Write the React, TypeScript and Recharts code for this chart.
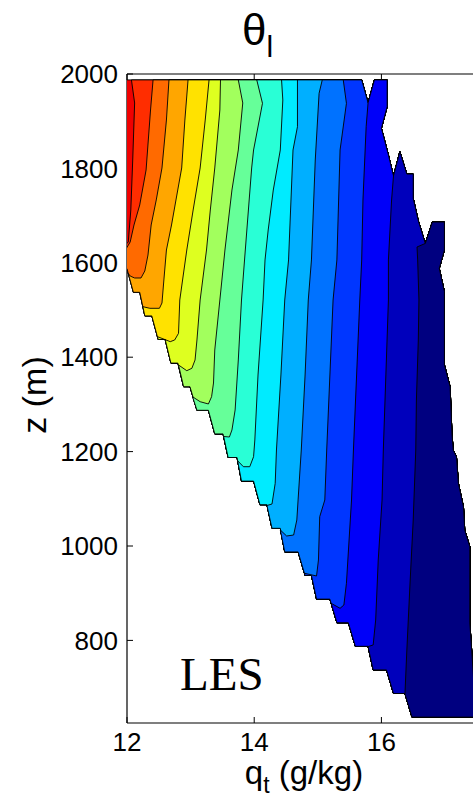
import React from 'react';
import { ScatterChart, Scatter, XAxis, YAxis } from 'recharts';

type P = [number, number]; // [q_t (g/kg), z (m)]

const xTicks = [12, 14, 16];
const zTicks = [800, 1000, 1200, 1400, 1600, 1800, 2000];
const xDomain = [12, 17.44];
const zDomain = [625, 2000];

// colour of each filled band, from the low-q side (band 0) to the high-q side
const bandColors = [
  '#F00000', '#FF2D00', '#FF6A00', '#FFA600', '#FFE200', '#DEFF20', '#A2FF5D', '#66FF99',
  '#29FFD6', '#00EBFF', '#00AFFF', '#0072FF', '#0036FF', '#0000F9', '#0000BC', '#000080',
];

// outline of the region where data exist (left edge down, bottom, right edge up, top)
const domainEdge: P[] = [
  [11.9, 1987.5], [11.9, 1587.5], [12.0, 1587.5],
  [12.10, 1537.5], [12.20, 1537.5],
  [12.28, 1487.5], [12.39, 1487.5],
  [12.49, 1437.5], [12.60, 1437.5],
  [12.69, 1387.5], [12.80, 1387.5],
  [12.89, 1337.5], [12.99, 1337.5],
  [13.10, 1287.5], [13.28, 1287.5],
  [13.38, 1237.5], [13.51, 1237.5],
  [13.59, 1187.5], [13.73, 1187.5],
  [13.80, 1137.5], [13.99, 1137.5],
  [14.09, 1087.5], [14.20, 1087.5],
  [14.28, 1037.5], [14.41, 1037.5],
  [14.48, 987.5], [14.69, 987.5],
  [14.80, 937.5], [14.90, 937.5],
  [14.98, 887.5], [15.19, 887.5],
  [15.30, 837.5], [15.48, 837.5],
  [15.59, 787.5], [15.79, 787.5],
  [15.87, 737.5], [16.08, 737.5],
  [16.19, 687.5], [16.37, 687.5],
  [16.48, 637.5], [17.49, 637.5],
  [17.39, 837], [17.39, 998.5], [17.31, 1034], [17.29, 1083], [17.21, 1133],
  [17.18, 1189], [17.13, 1203], [17.11, 1235], [17.08, 1337.5], [16.99, 1384],
  [16.99, 1539], [16.91, 1588], [16.99, 1627], [16.99, 1686.4], [16.80, 1686.4],
  [16.69, 1641], [16.58, 1689], [16.50, 1736.7], [16.50, 1788], [16.40, 1788],
  [16.29, 1835.4], [16.19, 1784], [16.11, 1828.4], [16.00, 1885], [16.09, 1930.7],
  [16.09, 1987.5], [15.89, 1987.5], [15.79, 1939], [15.69, 1987.5],
];

// contour lines, each from its upper end to where it meets the left/bottom edge
const contour0: P[] = [[12.07, 1987.5], [12.12, 1938.6], [12.09, 1817.8], [12.06, 1711.9], [12.02, 1644.1], [11.9, 1627.1]];
const contour1: P[] = [[12.41, 1987.5], [12.37, 1923.7], [12.30, 1796.6], [12.20, 1722.5], [12.11, 1680.1], [12.05, 1644.1], [11.9, 1610.2]];
const contour2: P[] = [[12.66, 1987.5], [12.62, 1902.5], [12.55, 1800.9], [12.46, 1733.1], [12.38, 1680.1], [12.33, 1616.5], [12.28, 1582.6], [12.22, 1567.8], [12.12, 1567.8], [12.05, 1572.0], [12.02, 1577.3]];
const contour3: P[] = [[12.96, 1987.5], [12.91, 1902.5], [12.86, 1800.9], [12.77, 1733.1], [12.70, 1680.1], [12.62, 1627.1], [12.58, 1563.6], [12.55, 1514.8], [12.51, 1503.6], [12.36, 1503.6], [12.25, 1507.0]];
const contour4: P[] = [[13.29, 1987.5], [13.23, 1902.5], [13.15, 1800.9], [13.04, 1711.9], [12.94, 1627.1], [12.83, 1521.2], [12.81, 1450.6], [12.75, 1436.5], [12.68, 1432.9], [12.48, 1443.5]];
const contour5: P[] = [[13.47, 1987.5], [13.46, 1923.7], [13.38, 1800.9], [13.31, 1711.9], [13.25, 1627.1], [13.15, 1521.2], [13.10, 1436.5], [13.07, 1394.1], [13.02, 1376.5], [12.94, 1371.4], [12.81, 1383.5]];
const contour6: P[] = [[13.75, 1987.5], [13.82, 1938.6], [13.75, 1839.0], [13.65, 1754.2], [13.54, 1627.1], [13.46, 1521.2], [13.38, 1415.3], [13.36, 1345.3], [13.33, 1316.3], [13.28, 1300.9], [13.15, 1305.7], [13.03, 1316.3]];
const contour7: P[] = [[14.04, 1987.5], [14.13, 1937.9], [13.99, 1839.0], [13.96, 1800.9], [13.86, 1627.1], [13.80, 1521.2], [13.75, 1394.1], [13.70, 1288.2], [13.65, 1245.8], [13.61, 1230.9], [13.52, 1232.0]];
const contour8: P[] = [[14.43, 1987.5], [14.45, 1944.9], [14.41, 1839.0], [14.30, 1754.2], [14.22, 1669.5], [14.17, 1606.0], [14.14, 1521.2], [14.06, 1362.3], [14.01, 1224.6], [13.99, 1189.2], [13.93, 1168.0], [13.83, 1168.0], [13.74, 1180.5]];
const contour9: P[] = [[14.68, 1987.5], [14.68, 1888.3], [14.61, 1839.0], [14.54, 1606.0], [14.48, 1521.2], [14.42, 1362.3], [14.35, 1203.4], [14.33, 1132.8], [14.28, 1089.0], [14.20, 1085.8]];
const contour10: P[] = [[15.07, 1987.5], [15.02, 1959.1], [14.96, 1817.8], [14.90, 1606.0], [14.85, 1521.2], [14.80, 1362.3], [14.74, 1203.4], [14.69, 1097.5], [14.67, 1055.1], [14.62, 1023.3], [14.51, 1021.2], [14.41, 1033.9]];
const contour11: P[] = [[15.40, 1987.5], [15.45, 1937.9], [15.35, 1839.0], [15.30, 1606.0], [15.24, 1521.2], [15.19, 1362.3], [15.14, 1203.4], [15.11, 1097.5], [15.03, 1062.1], [15.01, 970.3], [14.98, 936.5], [14.79, 942.2]];
const contour12: P[] = [[15.79, 1939], [15.76, 1888.3], [15.71, 1733.1], [15.69, 1606.0], [15.66, 1521.2], [15.61, 1362.3], [15.56, 1203.4], [15.53, 1097.5], [15.45, 921.0], [15.41, 875.0], [15.35, 868.0], [15.21, 878.6]];
const contour13: P[] = [[16.19, 1784], [16.16, 1733.1], [16.11, 1606.0], [16.11, 1521.2], [16.07, 1362.3], [16.03, 1203.4], [16.01, 1097.5], [15.95, 970.3], [15.91, 843.2], [15.87, 790.3], [15.79, 786.9]];
const contour14: P[] = [[16.69, 1641], [16.56, 1633.5], [16.57, 1606.0], [16.59, 1521.2], [16.58, 1436.5], [16.55, 1309.3], [16.54, 1203.4], [16.50, 1055.1], [16.45, 921.6], [16.40, 779.7], [16.37, 686.0]];

const contours = [
  contour0, contour1, contour2, contour3, contour4, contour5, contour6, contour7,
  contour8, contour9, contour10, contour11, contour12, contour13, contour14,
];

const FONT = '"Liberation Sans", Arial, Helvetica, sans-serif';
const SERIF = '"Liberation Serif", "Times New Roman", serif';

// --- polygon building (band k+1 = region on the high-q side of contour k) ---
const SX = 63.6;
const SZ = 0.472;
function segDist(p: P, a: P, b: P) {
  const ax = a[0] * SX, ay = a[1] * SZ, bx = b[0] * SX, by = b[1] * SZ;
  const px = p[0] * SX, py = p[1] * SZ;
  const dx = bx - ax, dy = by - ay;
  const L = dx * dx + dy * dy;
  let t = L > 0 ? ((px - ax) * dx + (py - ay) * dy) / L : 0;
  t = Math.max(0, Math.min(1, t));
  return Math.hypot(px - (ax + t * dx), py - (ay + t * dy));
}
function nearestSeg(p: P) {
  const n = domainEdge.length;
  let best = 0;
  let bd = Infinity;
  for (let i = 0; i < n; i++) {
    const d = segDist(p, domainEdge[i], domainEdge[(i + 1) % n]);
    if (d < bd - 1e-9) {
      bd = d;
      best = i;
    }
  }
  return best;
}
const toRows = (pts: P[]) => pts.map(([q, z]) => ({ q, z }));
function bandPolygon(c: P[]) {
  const n = domainEdge.length;
  const next = (nearestSeg(c[c.length - 1]) + 1) % n;
  const prev = nearestSeg(c[0]);
  const out: P[] = [...c];
  let j = next;
  for (let g = 0; g <= n; g++) {
    out.push(domainEdge[j]);
    if (j === prev) break;
    j = (j + 1) % n;
  }
  out.push(c[0]);
  return toRows(out);
}
const bands = [toRows([...domainEdge, domainEdge[0]]), ...contours.map(bandPolygon)];

const NoDot = () => <g />;

const BottomLabel = () => (
  <g>
    <text x={304} y={784} textAnchor="middle" fontSize={33} fontFamily={FONT} fill="#000">
      q<tspan dy={9} fontSize={23}>t</tspan>
      <tspan dy={-9}> (g/kg)</tspan>
    </text>
    <text x={180} y={690} fontSize={47} fontFamily={SERIF} fill="#000">LES</text>
  </g>
);

const LeftLabel = () => (
  <text transform="translate(46,395) rotate(-90)" textAnchor="middle" fontSize={34} fontFamily={FONT} fill="#000">
    z (m)
  </text>
);

const TitleLabel = () => (
  <text x={242} y={45} fontSize={44} fontFamily={FONT} fill="#000">
    θ<tspan dy={12} fontSize={30}>l</tspan>
  </text>
);

const tickStyle = { fill: '#000', fontSize: 26, fontFamily: FONT };
const axisLine = { stroke: '#000', strokeWidth: 1.2 };
const tickLine = { stroke: '#000', strokeWidth: 1 };

export default function App() {
  return (
    <div style={{ position: 'absolute', left: 0, top: 0, background: '#fff' }}>
      <ScatterChart width={473} height={800} margin={{ top: 73, right: 0, bottom: 0, left: 0 }}>
        <XAxis
          xAxisId="b"
          type="number"
          dataKey="q"
          domain={xDomain}
          allowDataOverflow
          ticks={xTicks}
          interval={0}
          height={77}
          tickSize={-6}
          tickMargin={16}
          axisLine={axisLine}
          tickLine={tickLine}
          tick={tickStyle}
          label={BottomLabel}
        />
        <XAxis
          xAxisId="t"
          orientation="top"
          type="number"
          dataKey="q"
          domain={xDomain}
          allowDataOverflow
          ticks={xTicks}
          interval={0}
          height={1}
          tickSize={-6}
          tickFormatter={() => ''}
          axisLine={axisLine}
          tickLine={tickLine}
          label={TitleLabel}
        />
        <YAxis
          yAxisId="l"
          type="number"
          dataKey="z"
          domain={zDomain}
          allowDataOverflow
          ticks={zTicks}
          interval={0}
          width={127}
          tickSize={-6}
          tickMargin={15}
          axisLine={axisLine}
          tickLine={tickLine}
          tick={tickStyle}
          label={LeftLabel}
        />
        {bands.map((pts, i) => (
          <Scatter
            key={i}
            name={`band${i}`}
            xAxisId="b"
            yAxisId="l"
            data={pts}
            line={{ fill: bandColors[i], stroke: '#000', strokeWidth: 0.9, strokeLinejoin: 'round' }}
            lineType="joint"
            shape={NoDot}
            isAnimationActive={false}
          />
        ))}
      </ScatterChart>
    </div>
  );
}
